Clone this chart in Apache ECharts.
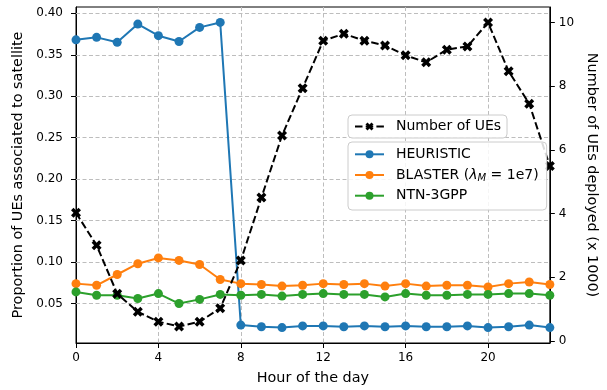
<!DOCTYPE html>
<html>
<head>
<meta charset="utf-8">
<script src="https://cdn.jsdelivr.net/npm/echarts@6/dist/echarts.min.js"></script>
<style>
  html, body { margin: 0; padding: 0; background: #fff; }
  #chart { width: 607px; height: 390px; }
</style>
</head>
<body>
<div id="chart"></div>
<script>
// Hour of the day (0..23)
const hours = [0, 1, 2, 3, 4, 5, 6, 7, 8, 9, 10, 11, 12, 13, 14, 15, 16, 17, 18, 19, 20, 21, 22, 23];

// Proportion of UEs associated to satellite, per strategy
const heuristic = [0.368, 0.371, 0.365, 0.387, 0.373, 0.366, 0.383, 0.389, 0.024, 0.022, 0.021, 0.023,
                   0.023, 0.022, 0.023, 0.022, 0.023, 0.022, 0.022, 0.023, 0.021, 0.022, 0.024, 0.021];
const blaster   = [0.074, 0.072, 0.085, 0.098, 0.105, 0.102, 0.097, 0.079, 0.074, 0.073, 0.071, 0.072,
                   0.074, 0.073, 0.074, 0.071, 0.074, 0.071, 0.072, 0.072, 0.070, 0.074, 0.076, 0.073];
const ntn3gpp   = [0.064, 0.060, 0.060, 0.056, 0.062, 0.050, 0.055, 0.061, 0.060, 0.061, 0.059, 0.061,
                   0.062, 0.061, 0.061, 0.058, 0.062, 0.060, 0.060, 0.061, 0.061, 0.062, 0.062, 0.060];

// Number of UEs deployed (x 1000)
const numUEs = [4.02, 3.00, 1.48, 0.91, 0.60, 0.45, 0.60, 1.02, 2.52, 4.50, 6.45, 7.94,
                9.43, 9.65, 9.43, 9.28, 8.97, 8.75, 9.15, 9.25, 10.0, 8.47, 7.45, 5.49];

// Tick labels
const xTicks = [0, 4, 8, 12, 16, 20];
const leftTicks = [0.05, 0.10, 0.15, 0.20, 0.25, 0.30, 0.35, 0.40];
const rightTicks = [0, 2, 4, 6, 8, 10];

const pairs = (ys) => hours.map((h, i) => [h, ys[i]]);

const FONT = 'DejaVu Sans';
const TICK_SIZE = 12, TITLE_SIZE = 14.4, LEGEND_SIZE = 14;
const C_BLUE = '#1f77b4', C_ORANGE = '#ff7f0e', C_GREEN = '#2ca02c';
const GRID_COLOR = '#bdbdbd';
const X_MARKER = 'path://M1,0 L2,1 L3,0 L4,1 L3,2 L4,3 L3,4 L2,3 L1,4 L0,3 L1,2 L0,1 Z';

function lineSeries(name, color, ys) {
  return {
    name, type: 'line', xAxisIndex: 0, yAxisIndex: 0,
    data: pairs(ys),
    symbol: 'circle', symbolSize: 9,
    itemStyle: { color, borderWidth: 0 },
    lineStyle: { color, width: 2 },
    z: 3
  };
}

const chart = echarts.init(document.getElementById('chart'), null, { renderer: 'canvas' });

const legendCommon = {
  orient: 'vertical', left: 348,
  backgroundColor: 'rgba(255,255,255,0.85)',
  borderColor: '#cccccc', borderWidth: 1, borderRadius: 4,
  itemWidth: 29, itemHeight: 10, itemGap: 4.7,
  selectedMode: false,
  textStyle: {
    fontFamily: FONT, fontSize: LEGEND_SIZE, color: '#000', lineHeight: 16,
    padding: [0, 0, 0, 7],
    rich: {
      l: { fontFamily: FONT, fontSize: LEGEND_SIZE, fontStyle: 'italic', color: '#000' },
      s: { fontFamily: FONT, fontSize: 10, fontStyle: 'italic', color: '#000', padding: [6, 0, 0, 0] }
    }
  },
  z: 10
};

const heuristicSeries = lineSeries('HEURISTIC', C_BLUE, heuristic);
// horizontal grid lines at the left-axis ticks, kept beneath the data
heuristicSeries.markLine = {
  silent: true, symbol: 'none', z: 1, animation: false,
  label: { show: false },
  emphasis: { disabled: true },
  lineStyle: { color: GRID_COLOR, type: [4, 2.5], width: 1 },
  data: leftTicks.map((v) => ({ yAxis: v }))
};

const titleStyle = { fontFamily: FONT, fontSize: TITLE_SIZE, color: '#000' };
const tickLabel = { fontFamily: FONT, fontSize: TICK_SIZE, color: '#000' };

chart.setOption({
  animation: false,
  backgroundColor: '#fff',
  textStyle: { fontFamily: FONT },
  grid: {
    left: 76, right: 53, top: 7, bottom: 45,
    show: true, borderColor: '#000', borderWidth: 1, backgroundColor: 'transparent'
  },
  legend: [
    Object.assign({}, legendCommon, {
      top: 115, padding: [3.5, 6, 3.5, 6],
      data: ['Number of UEs']
    }),
    Object.assign({}, legendCommon, {
      top: 142, padding: [4.3, 8, 6.3, 6],
      data: ['HEURISTIC', 'BLASTER', 'NTN-3GPP'],
      formatter: (name) => name === 'BLASTER' ? 'BLASTER ({l|λ}{s|M} = 1e7)' : name
    })
  ],
  xAxis: {
    type: 'value', min: 0, max: 23, interval: 1,
    name: 'Hour of the day', nameLocation: 'middle', nameGap: 28,
    nameTextStyle: titleStyle,
    axisLine: { onZero: false, lineStyle: { color: '#000', width: 1 } },
    axisTick: { show: true, length: 5, lineStyle: { color: '#000' }, customValues: xTicks },
    axisLabel: Object.assign({ margin: 9, customValues: xTicks }, tickLabel),
    splitLine: { show: true, lineStyle: { color: GRID_COLOR, type: [4, 2.5], width: 1 } }
  },
  yAxis: [
    {
      type: 'value', position: 'left', min: 0.0024, max: 0.4076,
      name: 'Proportion of UEs associated to satellite', nameLocation: 'middle', nameGap: 45,
      nameTextStyle: titleStyle,
      axisLine: { show: true, onZero: false, lineStyle: { color: '#000', width: 1 } },
      axisTick: { show: true, length: 5, lineStyle: { color: '#000' }, customValues: leftTicks },
      axisLabel: Object.assign({ margin: 13, customValues: leftTicks, formatter: (v) => v.toFixed(2) }, tickLabel),
      splitLine: { show: false }
    },
    {
      type: 'value', position: 'right', min: -0.07, max: 10.49,
      name: 'Number of UEs deployed (x 1000)', nameLocation: 'middle', nameGap: 30,
      nameRotate: -90,
      nameTextStyle: titleStyle,
      axisLine: { show: true, onZero: false, lineStyle: { color: '#000', width: 1 } },
      axisTick: { show: true, length: 5, lineStyle: { color: '#000' }, customValues: rightTicks },
      axisLabel: Object.assign({ margin: 9, customValues: rightTicks }, tickLabel),
      splitLine: { show: false }
    }
  ],
  series: [
    heuristicSeries,
    lineSeries('BLASTER', C_ORANGE, blaster),
    lineSeries('NTN-3GPP', C_GREEN, ntn3gpp),
    {
      name: 'Number of UEs', type: 'line', xAxisIndex: 0, yAxisIndex: 1,
      data: pairs(numUEs),
      symbol: X_MARKER, symbolSize: 10,
      itemStyle: { color: '#000', borderWidth: 0 },
      lineStyle: { color: '#000', width: 2, type: [7.5, 3.2] },
      z: 4
    }
  ]
});
</script>
</body>
</html>
